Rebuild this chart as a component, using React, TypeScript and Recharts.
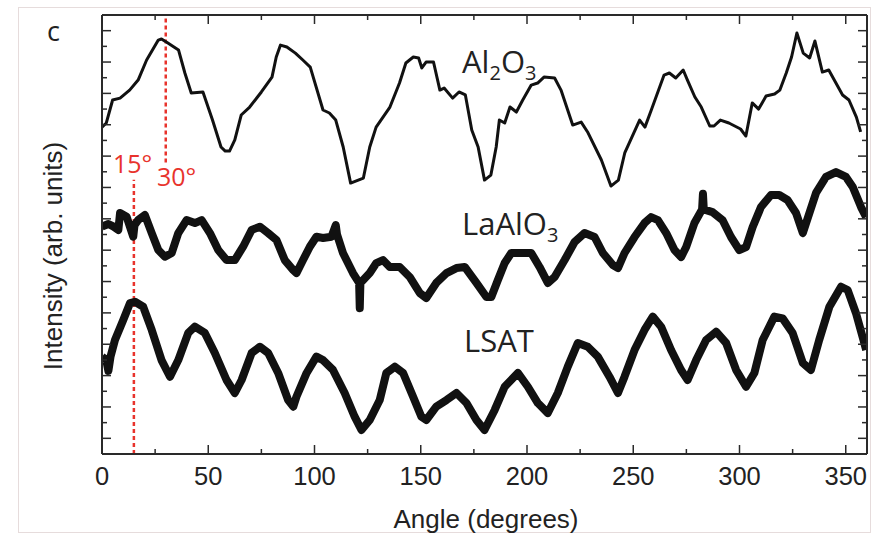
import React from 'react';
import { LineChart, Line, XAxis, YAxis, ReferenceLine } from 'recharts';

// angle (degrees) / intensity (arb. units, stacked offsets)
const AL2O3: [number, number][] = [
  [0,20.85],[2,21.11],[5,22.58],[8.5,22.70],[13,23.21],[17,23.85],[21,25.13],[26.5,26.40],[28,26.47],[31,26.21],[36,25.77],[39,24.30],[42,23.02],[47.5,23.09],[52,21.30],[56,19.58],[58,19.32],[60,19.32],[62.5,20.03],[65.5,21.62],[69.5,22.13],[75,23.09],[80,24.04],[82,25.32],[84,26.08],[87,25.96],[91,25.57],[94.5,25.13],[98,24.68],[104,21.94],[107,21.75],[110,21.30],[113.5,19.58],[117,17.28],[123,17.60],[126,19.58],[129,20.85],[135.5,22.13],[140,23.66],[143,24.94],[146.5,25.32],[149,25.26],[150.5,24.62],[152.5,25.00],[156,25.00],[159,23.21],[161,23.34],[165,22.70],[168,23.09],[171,22.90],[174,20.66],[177,19.58],[180,17.47],[183,17.79],[185.5,19.58],[187,21.30],[189.5,21.11],[192,22.13],[195,21.81],[198,22.58],[202,23.53],[205,23.66],[208,24.04],[213,23.98],[216,23.21],[221.5,20.98],[225.5,21.17],[228.5,20.54],[235,18.75],[239.5,17.09],[243,17.47],[246,19.20],[253,21.30],[255.5,20.85],[258.5,21.94],[264.5,24.17],[267,24.30],[270,23.98],[273.5,24.49],[275.5,23.85],[279,22.77],[282,22.13],[286,20.92],[288,20.92],[291,21.30],[295,21.11],[300.5,20.73],[303,20.28],[306,22.39],[309,22.00],[312.5,22.83],[316.5,22.96],[319,23.21],[322,24.30],[324.5,25.32],[327,26.85],[330,25.57],[333,25.26],[335.5,26.34],[339,24.36],[342,24.49],[348.5,22.90],[351.5,22.58],[355,21.49],[357,20.54]
];

const LAALO3: [number, number][] = [
  [0,14.50],[3,14.67],[5.5,14.5],[7.7,14.29],[8.5,15.37],[11.6,15.13],[14.7,13.86],[15.3,14.6],[17,14.92],[20.2,15.24],[23.4,14.09],[26.5,13.01],[29.6,12.58],[32.8,12.82],[35.9,14.09],[39.8,14.92],[43.7,14.73],[46.9,14.92],[50.8,14.09],[54.7,13.01],[58.6,12.37],[62.5,12.37],[66.4,13.22],[70.4,14.29],[74.3,14.50],[78.2,14.09],[82.1,13.65],[86,12.37],[90,11.73],[91.5,11.54],[94.6,12.37],[97.8,13.22],[100.9,13.86],[104,13.78],[108,13.86],[110,14.6],[110.6,14.0],[113.4,12.82],[118.1,11.54],[121,10.91],[121.3,9.3],[121.6,10.91],[126,11.54],[129.1,12.18],[132.2,12.37],[135.4,11.93],[140.1,11.93],[144.8,11.29],[149.5,10.27],[152.6,9.95],[157.3,10.91],[162.1,11.54],[166.8,11.86],[170.7,11.93],[176.2,10.91],[180.9,10.01],[183.2,10.01],[186.3,11.10],[189.5,12.18],[192.6,12.82],[197.3,12.82],[202,12.82],[205.9,11.93],[209.8,10.91],[213,11.29],[217.7,12.37],[222.4,13.52],[227.1,14.09],[231.8,13.84],[235.7,12.82],[240.4,12.05],[242.8,11.86],[245.9,12.82],[250.6,13.84],[255.3,14.73],[258.4,15.11],[261.6,14.92],[265.5,14.09],[269.4,13.01],[272.5,12.56],[274.9,13.20],[278.8,14.73],[282.4,15.6],[282.8,16.6],[283.2,15.6],[287.3,15.43],[292,14.92],[296,13.84],[299.9,13.01],[303.1,13.20],[306.2,14.48],[310.1,15.75],[314.8,16.52],[318.7,16.52],[322.6,16.20],[326.6,15.37],[329.8,14.09],[332.9,15.37],[336,16.65],[340.7,17.67],[345.4,17.98],[350.1,17.67],[353.3,17.03],[357.2,15.75],[359.6,15.11]
];

const LSAT: [number, number][] = [
  [0,6.21],[2,6.0],[3,5.3],[4,6.2],[6.1,7.27],[10,8.55],[13.2,9.63],[15.5,9.71],[19.4,9.39],[23.4,7.91],[28,5.99],[32,4.93],[35.9,5.99],[40.6,7.72],[43.7,8.12],[48.4,7.72],[53.1,6.44],[58.6,4.72],[62.5,3.89],[65.7,4.72],[70.4,6.44],[74.3,6.84],[78.2,6.44],[82.9,5.17],[87.6,3.44],[90,3.02],[91.5,3.65],[96.3,5.17],[100.9,6.21],[104,5.99],[108.7,5.36],[114.2,3.89],[118.9,2.38],[122.1,1.53],[126,2.17],[130.7,3.44],[133.8,5.17],[137.8,5.57],[141.7,5.17],[146.4,3.65],[150.3,2.38],[152.6,2.17],[157.3,3.02],[162.1,3.44],[166.8,3.89],[171.5,3.25],[176.2,2.17],[180,1.53],[184.8,2.81],[189.5,4.29],[195.7,5.17],[200.4,4.29],[205.1,3.25],[209.8,2.61],[214.5,3.89],[219.2,5.57],[223.9,7.08],[228.6,6.84],[233.3,6.21],[238.8,4.93],[242.8,3.89],[245.9,4.93],[250.6,6.63],[255.3,7.91],[259.2,8.76],[263.1,8.12],[267.8,6.63],[272.5,5.36],[275.6,4.72],[279.6,5.99],[284.3,7.27],[289,7.80],[293.7,7.08],[298.4,5.36],[303.1,4.29],[307,5.17],[310.9,7.27],[316.4,8.76],[320.3,8.65],[325,7.72],[329.8,5.80],[333.6,5.36],[337.5,7.27],[342.3,9.39],[347.8,10.67],[350.9,10.46],[354.8,8.99],[357.9,7.48],[359.6,6.63]
];

const X_TICKS = [0, 25, 50, 75, 100, 125, 150, 175, 200, 225, 250, 275, 300, 325, 350];
const Y_TICKS = [1, 2, 3, 4, 5, 6, 7, 8, 9, 10, 11, 12, 13, 14, 15, 16, 17, 18, 19, 20, 21, 22, 23, 24, 25, 26, 27];
const MARK_15 = 15;
const MARK_30 = 30;

const toRows = (a: [number, number][]) => a.map(([x, v]) => ({ x, v }));
const alData = toRows(AL2O3);
const laData = toRows(LAALO3);
const lsData = toRows(LSAT);

const AXIS = '#2a2a2a';
const TICK_FONT = '"Liberation Sans", Arial, sans-serif';
const LABEL_FONT = '"Open Sans", "Noto Sans", sans-serif';
const RED = '#e8332c';

const BottomTick = (p: any) => {
  const major = p.payload.value % 50 === 0;
  return (
    <g>
      <line x1={p.x} x2={p.x} y1={p.y} y2={p.y - (major ? 9 : 5)} stroke={AXIS} strokeWidth={1.5} />
      {major && (
        <text x={p.x} y={p.y + 31} textAnchor="middle" fontSize={25.5} fontFamily={TICK_FONT} fill="#222">
          {p.payload.value}
        </text>
      )}
    </g>
  );
};
const TopTick = (p: any) => {
  const major = p.payload.value % 50 === 0;
  return <line x1={p.x} x2={p.x} y1={p.y} y2={p.y + (major ? 9 : 5)} stroke={AXIS} strokeWidth={1.5} />;
};
const LeftTick = (p: any) => {
  const long = p.payload.value % 2 === 1;
  return <line x1={p.x} x2={p.x + (long ? 9 : 5)} y1={p.y} y2={p.y} stroke={AXIS} strokeWidth={1.5} />;
};
const RightTick = (p: any) => {
  const long = p.payload.value % 2 === 1;
  return <line x1={p.x} x2={p.x - (long ? 9 : 5)} y1={p.y} y2={p.y} stroke={AXIS} strokeWidth={1.5} />;
};

export default function App() {
  return (
    <div style={{ position: 'absolute', left: 0, top: 0, width: 885, height: 537, background: '#fff' }}>
      <div style={{ position: 'absolute', left: 18, top: 7, width: 851, height: 524, border: '1.5px solid #e6dcdc' }} />
      <div style={{ position: 'absolute', left: 0, top: 0 }}>
        <LineChart width={885} height={537} margin={{ top: 5, right: 8, bottom: 43, left: 92 }}>
          <XAxis xAxisId="b" dataKey="x" type="number" domain={[0, 360]} allowDataOverflow ticks={X_TICKS} interval={0}
            orientation="bottom" height={40} tickSize={0} tickMargin={0} tickLine={false}
            axisLine={{ stroke: AXIS, strokeWidth: 2 }} tick={BottomTick} />
          <XAxis xAxisId="t" dataKey="x" type="number" domain={[0, 360]} allowDataOverflow ticks={X_TICKS} interval={0}
            orientation="top" height={10} tickSize={0} tickMargin={0} tickLine={false}
            axisLine={{ stroke: AXIS, strokeWidth: 2 }} tick={TopTick} />
          <YAxis yAxisId="l" type="number" domain={[0, 28]} allowDataOverflow ticks={Y_TICKS} interval={0}
            orientation="left" width={10} tickSize={0} tickMargin={0} tickLine={false}
            axisLine={{ stroke: AXIS, strokeWidth: 2 }} tick={LeftTick} />
          <YAxis yAxisId="r" type="number" domain={[0, 28]} allowDataOverflow ticks={Y_TICKS} interval={0}
            orientation="right" width={10} tickSize={0} tickMargin={0} tickLine={false}
            axisLine={{ stroke: AXIS, strokeWidth: 2 }} tick={RightTick} />
          <ReferenceLine xAxisId="b" yAxisId="l" segment={[{ x: MARK_15, y: 0 }, { x: MARK_15, y: 17.5 }]}
            stroke={RED} strokeWidth={2.5} strokeDasharray="4 3" />
          <ReferenceLine xAxisId="b" yAxisId="l" segment={[{ x: MARK_30, y: 18.6 }, { x: MARK_30, y: 28 }]}
            stroke={RED} strokeWidth={2.5} strokeDasharray="4 3" />
          <Line xAxisId="b" yAxisId="l" data={alData} dataKey="v" type="linear" stroke="#111" strokeWidth={3}
            dot={false} isAnimationActive={false} strokeLinejoin="round" />
          <Line xAxisId="b" yAxisId="l" data={laData} dataKey="v" type="linear" stroke="#111" strokeWidth={8}
            dot={false} isAnimationActive={false} strokeLinejoin="round" />
          <Line xAxisId="b" yAxisId="l" data={lsData} dataKey="v" type="linear" stroke="#111" strokeWidth={8}
            dot={false} isAnimationActive={false} strokeLinejoin="round" />
        </LineChart>
      </div>
      <svg width={885} height={537} style={{ position: 'absolute', left: 0, top: 0, pointerEvents: 'none' }}>
        <text x={47} y={41} fontSize={27} fontFamily={LABEL_FONT} fill="#222">c</text>
        <text x={462} y={73} fontSize={31} fontFamily={LABEL_FONT} fill="#222">
          Al<tspan fontSize={20} dy={7}>2</tspan><tspan dy={-7}>O</tspan><tspan fontSize={20} dy={7}>3</tspan>
        </text>
        <text x={462} y={235} fontSize={31} fontFamily={LABEL_FONT} fill="#222">
          LaAlO<tspan fontSize={20} dy={7}>3</tspan>
        </text>
        <text x={464} y={352} fontSize={31} fontFamily={LABEL_FONT} fill="#222">LSAT</text>
        <text x={113} y={173} fontSize={25} fontFamily={LABEL_FONT} fill={RED}>15°</text>
        <text x={157} y={186} fontSize={25} fontFamily={LABEL_FONT} fill={RED}>30°</text>
        <text x={486} y={528} textAnchor="middle" fontSize={26} fontFamily={TICK_FONT} fill="#222">Angle (degrees)</text>
        <text x={0} y={0} transform="translate(62,256) rotate(-90)" textAnchor="middle" fontSize={26} fontFamily={TICK_FONT} fill="#222">
          Intensity (arb. units)
        </text>
      </svg>
    </div>
  );
}
